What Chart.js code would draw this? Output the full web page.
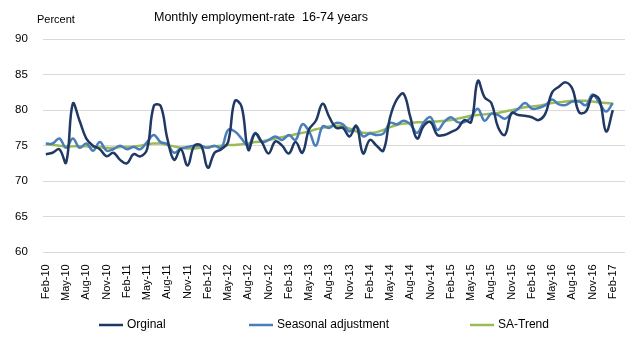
<!DOCTYPE html>
<html>
<head>
<meta charset="utf-8">
<script src="https://cdn.jsdelivr.net/npm/chart.js@4/dist/chart.umd.min.js"></script>
<style>
  html, body { margin: 0; padding: 0; background: #fff; }
  #wrap { width: 643px; height: 340px; position: relative; }
</style>
</head>
<body>
<div id="wrap"><canvas id="chart" width="643" height="340"></canvas></div>
<script>
// ============================================================
// Data (Feb-10 .. Feb-17, monthly)
// ============================================================
const months = ["Jan","Feb","Mar","Apr","May","Jun","Jul","Aug","Sep","Oct","Nov","Dec"];

const original = [
  73.8, 74.0, 74.5, 72.6, 80.9, 78.5, 76.0, 75.0, 74.5, 73.5, 74.0, 73.0,
  72.5, 73.8, 73.5, 74.5, 80.6, 80.6, 76.0, 73.0, 74.5, 72.2, 75.0, 75.0,
  71.9, 74.0, 74.5, 75.5, 81.3, 80.5, 74.4, 76.7, 75.5, 73.9, 75.6, 75.0,
  73.9, 75.5, 74.0, 77.3, 78.5, 80.9, 79.0, 77.5, 77.5, 76.3, 77.8, 73.9,
  75.8, 75.0, 74.3, 79.0, 81.5, 82.3, 79.0, 76.0, 77.8, 78.3, 76.5, 76.5,
  76.9, 77.4, 78.6, 78.3, 84.1, 81.8, 81.0, 77.6, 76.5, 79.6, 79.3, 79.2,
  79.0, 78.6, 79.5, 82.5, 83.3, 83.9, 83.0, 79.7, 79.8, 82.0, 81.5, 77.0,
  80.0
];

const seasonal = [
  75.3, 75.3, 76.0, 74.7, 76.0, 74.7, 75.3, 74.3, 75.5, 74.3, 74.5, 75.0,
  74.5, 74.8, 74.5, 75.5, 76.5, 75.5, 75.2, 74.0, 74.6, 74.8, 75.0, 75.0,
  74.7, 75.0, 74.7, 77.2, 77.0, 76.0, 75.0, 76.8, 75.5, 75.8, 76.3, 75.8,
  76.5, 75.8, 78.0, 77.0, 75.0, 77.7, 77.5, 78.2, 78.0, 77.0, 77.7, 76.3,
  76.7, 76.5, 76.7, 78.2, 78.0, 78.5, 78.0, 76.8, 78.3, 79.0, 77.2, 78.3,
  79.0, 78.3, 78.3, 79.0, 80.2, 78.5, 79.5, 79.3, 78.8, 79.5, 80.2, 81.0,
  80.2, 80.3, 80.7, 81.5, 80.8, 80.7, 81.2, 81.2, 80.7, 82.2, 81.0, 79.8,
  81.0
];

const trend = [
  75.2, 75.1, 75.0, 74.9, 74.9, 74.9, 74.9, 74.8, 74.8, 74.7, 74.7, 74.8,
  74.8, 74.9, 75.0, 75.2, 75.3, 75.3, 75.1, 74.9, 74.7, 74.6, 74.6, 74.7,
  74.8, 74.9, 75.0, 75.1, 75.1, 75.2, 75.3, 75.5, 75.6, 75.8, 76.0, 76.2,
  76.4, 76.6, 76.8, 77.0, 77.3, 77.5, 77.7, 77.8, 77.7, 77.4, 77.0, 76.8,
  76.8, 76.9, 77.2, 77.6, 77.9, 78.1, 78.2, 78.3, 78.3, 78.4, 78.4, 78.5,
  78.6, 78.8, 79.0, 79.2, 79.3, 79.4, 79.5, 79.6, 79.8, 80.0, 80.2, 80.4,
  80.5, 80.6, 80.8, 81.0, 81.1, 81.2, 81.3, 81.3, 81.3, 81.2, 81.1, 81.0,
  80.9
];

// Tick labels every 3 months starting Feb-10
const startYear = 2010;
const startMonth = 1; // Feb (0-based)
const yTicks = [60, 65, 70, 75, 80, 85, 90];

const titleText = "Monthly employment-rate  16-74 years";
const unitText = "Percent";

// ============================================================
// Helpers
// ============================================================
const FONT = "'Liberation Sans', Arial, sans-serif";

function labelFor(i) {
  const m = startMonth + i;
  const yy = String((startYear + Math.floor(m / 12)) % 100).padStart(2, "0");
  return months[m % 12] + "-" + yy;
}

const toPoints = (arr) => arr.map((v, i) => ({ x: i, y: v }));

const seriesDefs = [
  { label: "Orginal", data: original, color: "#203864" },
  { label: "Seasonal adjustment", data: seasonal, color: "#4A7EBB" },
  { label: "SA-Trend", data: trend, color: "#9BBB59" },
];

// ============================================================
// Title / unit / legend drawn on the canvas
// ============================================================
const textPlugin = {
  id: "textPlugin",
  afterDraw(chart) {
    const ctx = chart.ctx;
    ctx.save();
    ctx.fillStyle = "#000";
    ctx.textBaseline = "middle";

    ctx.font = "12.5px " + FONT;
    ctx.textAlign = "center";
    ctx.fillText(titleText, 261, 18);

    ctx.font = "11px " + FONT;
    ctx.textAlign = "left";
    ctx.fillText(unitText, 37, 20);

    // legend
    const legendX = [99, 249, 470];
    const legendY = 325;
    ctx.font = "12px " + FONT;
    seriesDefs.forEach((s, i) => {
      ctx.strokeStyle = s.color;
      ctx.lineWidth = 2.5;
      ctx.beginPath();
      ctx.moveTo(legendX[i], legendY);
      ctx.lineTo(legendX[i] + 24, legendY);
      ctx.stroke();
      ctx.fillStyle = "#000";
      ctx.fillText(s.label, legendX[i] + 28, legendY);
    });
    ctx.restore();
  },
};

// ============================================================
// Chart
// ============================================================
new Chart(document.getElementById("chart"), {
  type: "line",
  data: {
    datasets: seriesDefs.map((s) => ({
      label: s.label,
      data: toPoints(s.data),
      borderColor: s.color,
      backgroundColor: s.color,
      borderWidth: 2.5,
      pointRadius: 0,
      tension: 0.4,
      fill: false,
    })),
  },
  options: {
    responsive: false,
    animation: false,
    devicePixelRatio: 1,
    layout: { padding: { top: 39, left: 0, right: 18, bottom: 35 } },
    plugins: {
      legend: { display: false },
      tooltip: { enabled: false },
    },
    scales: {
      x: {
        type: "linear",
        min: -0.45,
        max: 85.8,
        afterBuildTicks: (axis) => {
          const t = [];
          for (let i = 0; i < original.length; i += 3) t.push({ value: i });
          axis.ticks = t;
        },
        grid: { display: false },
        border: { display: false },
        ticks: {
          autoSkip: false,
          maxRotation: 90,
          minRotation: 90,
          padding: 4,
          color: "#000",
          font: { family: FONT, size: 11 },
          callback: (v) => labelFor(v),
        },
      },
      y: {
        min: 60,
        max: 90,
        afterBuildTicks: (axis) => {
          axis.ticks = yTicks.map((v) => ({ value: v }));
        },
        grid: { color: "#d9d9d9", lineWidth: 1, drawTicks: false },
        border: { display: false },
        ticks: {
          padding: 15,
          color: "#000",
          font: { family: FONT, size: 11.5 },
        },
      },
    },
  },
  plugins: [textPlugin],
});
</script>
</body>
</html>
